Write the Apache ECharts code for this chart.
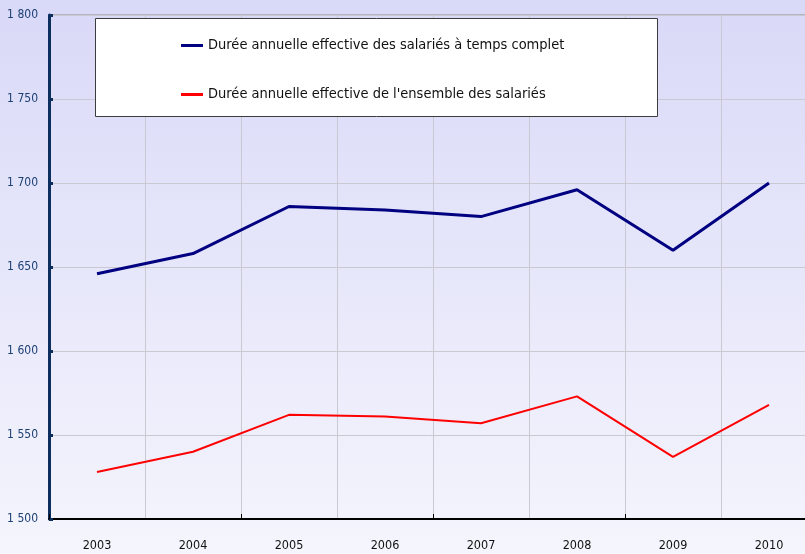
<!DOCTYPE html>
<html>
<head>
<meta charset="utf-8">
<script src="https://cdn.jsdelivr.net/npm/echarts@6/dist/echarts.min.js"></script>
<style>html,body{margin:0;padding:0;}#c{width:805px;height:554px;}</style>
</head>
<body>
<div id="c"></div>
<script>
const years = ['2003','2004','2005','2006','2007','2008','2009','2010'];
const tempsComplet = [1646, 1658, 1686, 1684, 1680, 1696, 1660, 1700];
const ensemble = [1528, 1540, 1562, 1561, 1557, 1573, 1537, 1568];
const seriesNames = ['Durée annuelle effective des salariés à temps complet', "Durée annuelle effective de l'ensemble des salariés"];
const yMin = 1500, yMax = 1800, yStep = 50;

const FONT = '"Liberation Sans Narrow", "DejaVu Sans Condensed", sans-serif';
const chart = echarts.init(document.getElementById('c'), null, {renderer: 'canvas'});
chart.setOption({
  animation: false,
  backgroundColor: new echarts.graphic.LinearGradient(0, 0, 0, 1, [
    {offset: 0, color: '#d9d9f8'},
    {offset: 1, color: '#f5f5fd'}
  ]),
  grid: {left: 49, top: 15, width: 768, height: 504, outerBoundsMode: 'none', containLabel: false,
    show: true, borderColor: '#8c8c8c', borderWidth: 1, backgroundColor: 'transparent'},
  graphic: [{
    type: 'rect', left: 95, top: 18, z: 10,
    shape: {width: 562, height: 98},
    style: {fill: '#ffffff', stroke: '#3c3c3c', lineWidth: 1}
  }],
  legend: {
    orient: 'vertical', left: 176, top: 33, z: 20,
    itemGap: 34, itemWidth: 22, itemHeight: 3,
    textStyle: {fontFamily: FONT, fontSize: 14.5, color: '#111'},
    data: [
      {name: seriesNames[0], icon: 'rect', itemStyle: {color: '#000080'}},
      {name: seriesNames[1], icon: 'rect', itemStyle: {color: '#ff0000'}}
    ]
  },
  xAxis: {
    type: 'category', data: years, boundaryGap: true,
    axisLine: {lineStyle: {color: '#000', width: 2}},
    axisTick: {show: true, inside: true, interval: 1, length: 5, lineStyle: {color: '#000'}},
    axisLabel: {fontFamily: FONT, fontSize: 12.5, color: '#111', margin: 20},
    splitLine: {show: true, interval: 0, lineStyle: {color: '#c9c9d2', width: 1}}
  },
  yAxis: {
    type: 'value', min: yMin, max: yMax, interval: yStep,
    axisLine: {show: true, lineStyle: {color: '#0b2e5e', width: 3}},
    axisTick: {show: true, inside: true, length: 4, lineStyle: {color: '#0b2e5e', width: 3}},
    axisLabel: {fontFamily: FONT, fontSize: 12, color: '#1b3f73', margin: 11,
      formatter: v => String(v).replace(/\B(?=(\d{3})+(?!\d))/g, ' ')},
    splitLine: {lineStyle: {color: '#c9c9d2', width: 1}}
  },
  series: [
    {name: seriesNames[0], type: 'line', data: tempsComplet, symbol: 'none', lineStyle: {color: '#000080', width: 3}, itemStyle: {color: '#000080'}},
    {name: seriesNames[1], type: 'line', data: ensemble, symbol: 'none', lineStyle: {color: '#ff0000', width: 2}, itemStyle: {color: '#ff0000'}}
  ]
});
</script>
</body>
</html>
